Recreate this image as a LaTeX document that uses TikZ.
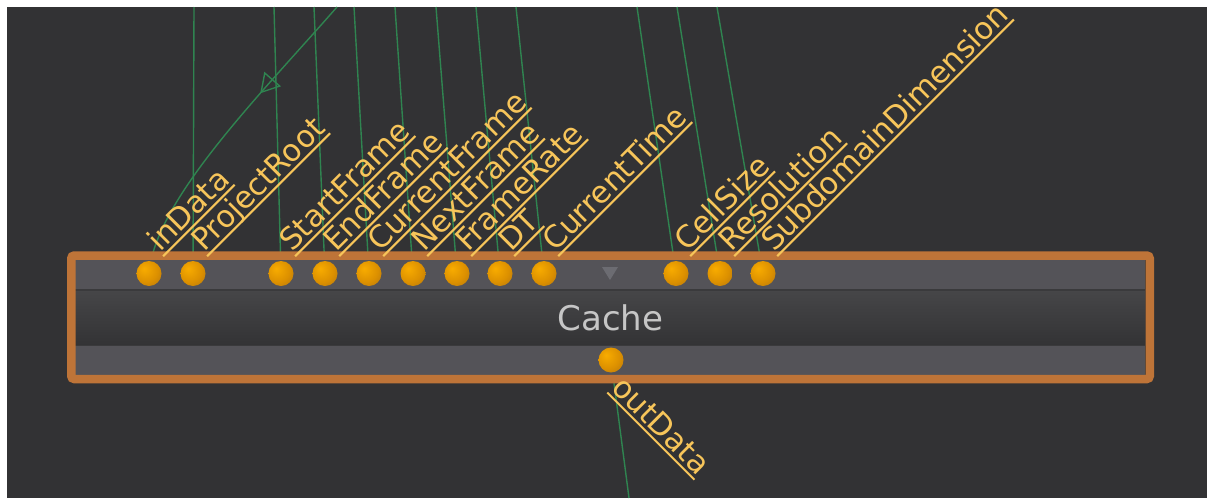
\documentclass[tikz,border=0pt]{standalone}
\usepackage{fontspec}
\setmainfont{DejaVu Sans}
\usetikzlibrary{calc,arrows.meta,decorations.markings}
\definecolor{bgdark}{HTML}{323234}
\definecolor{frameor}{HTML}{BE7438}
\definecolor{barcol}{HTML}{545358}
\definecolor{midtop}{HTML}{464648}
\definecolor{midbot}{HTML}{333335}
\definecolor{sepcol}{HTML}{3A3A3C}
\definecolor{wirecol}{HTML}{2F8450}
\definecolor{lblcol}{HTML}{F7C55A}
\definecolor{cachecol}{HTML}{C6C6C6}
\definecolor{tricol}{HTML}{6C6C72}
\definecolor{portA}{HTML}{F8AC00}
\definecolor{portB}{HTML}{DC9000}
\definecolor{portC}{HTML}{94621A}
\pgfdeclareradialshading{portshade}{\pgfpoint{-10bp}{10bp}}{color(0bp)=(portA); color(24bp)=(portB); color(56bp)=(portC); color(75bp)=(portC)}
\pgfdeclarelayer{back}
\pgfdeclarelayer{wires}
\pgfsetlayers{back,wires,main}
\tikzset{
  port/.style={circle, minimum size=25pt, inner sep=0pt, shading=portshade},
  lbltext/.style={font=\fontsize{30.5}{36}\selectfont, text=lblcol, inner sep=0pt},
  ulline/.style={draw=lblcol, line width=2pt},
  wire/.style={draw=wirecol, line width=1.4pt},
  cachetext/.style={font=\fontsize{34}{40}\selectfont, text=cachecol, inner sep=0pt}
}
\newcommand{\portlbl}[4]{%
  \node[lbltext, rotate=#3, anchor=base west] (#1) at (#2) {#4};
  \draw[ulline] ($(#1.base west)!4.5pt!-90:(#1.base east)$) -- ($(#1.base east)!4.5pt!90:(#1.base west)$);}
\begin{document}
\begin{tikzpicture}[x=1pt, y=-1pt]
\useasboundingbox (0,0) rectangle (1207,498);
\begin{pgfonlayer}{back}
  \fill[white] (0,0) rectangle (1207,498);
  \fill[bgdark] (7,7) rectangle (1207,498);
\end{pgfonlayer}

% node body
\fill[barcol] (75,260) rectangle (1145,290);
\shade[top color=midtop, bottom color=midbot] (75,290) rectangle (1145,345);
\fill[barcol] (75,345.5) rectangle (1145,375);
\draw[sepcol, line width=1.5pt] (75,290) -- (1145,290);
\draw[sepcol, line width=1.5pt] (75,345.5) -- (1145,345.5);
\draw[frameor, line width=8.5pt, rounded corners=3pt] (71.25,255.5) rectangle (1149.75,379);
\node[cachetext] (cache) at (610.5,318) {Cache};

% ports
\node[port] (pin1) at (149,273.5) {};
\node[port] (pin2) at (193,273.5) {};
\node[port] (pin3) at (281,273.5) {};
\node[port] (pin4) at (325,273.5) {};
\node[port] (pin5) at (369,273.5) {};
\node[port] (pin6) at (413,273.5) {};
\node[port] (pin7) at (457,273.5) {};
\node[port] (pin8) at (500,273.5) {};
\node[port] (pin9) at (544,273.5) {};
\node[port] (pin10) at (676,273.5) {};
\node[port] (pin11) at (720,273.5) {};
\node[port] (pin12) at (763,273.5) {};
\node[port] (pout) at (611,360) {};
\fill[tricol] (602,267) -- (618,267) -- (610,280) -- cycle;

% labels
\portlbl{l1}{160,253}{45}{inData}
\portlbl{l2}{204,253}{45}{ProjectRoot}
\portlbl{l3}{292,253}{45}{StartFrame}
\portlbl{l4}{336,253}{45}{EndFrame}
\portlbl{l5}{380,253}{45}{CurrentFrame}
\portlbl{l6}{424,253}{45}{NextFrame}
\portlbl{l7}{468,253}{45}{FrameRate}
\portlbl{l8}{511,253}{45}{DT}
\portlbl{l9}{555,253}{45}{CurrentTime}
\portlbl{l10}{687,253}{45}{CellSize}
\portlbl{l11}{731,253}{45}{Resolution}
\portlbl{l12}{774,253}{45}{SubdomainDimension}
\portlbl{lout}{610.5,389.4}{-45}{outData}

% wires
\coordinate (w1) at (337,7);
\coordinate (w2) at (194,7);
\coordinate (w3) at (274,7);
\coordinate (w4) at (314,7);
\coordinate (w5) at (354,7);
\coordinate (w6) at (395,7);
\coordinate (w7) at (436,7);
\coordinate (w8) at (476,7);
\coordinate (w9) at (516,7);
\coordinate (w10) at (637,7);
\coordinate (w11) at (677,7);
\coordinate (w12) at (717,7);
\coordinate (wout) at (629,498);
\begin{pgfonlayer}{wires}
  \draw[wire, postaction={decorate}, decoration={markings, mark=at position 0.35 with {\arrow{Triangle[open, length=19pt, width=22pt]}}}]
    (w1) .. controls (260,95) and (155,200) .. (pin1.center);
  \draw[wire] (w2) -- (pin2.center);
  \draw[wire] (w3) -- (pin3.center);
  \draw[wire] (w4) -- (pin4.center);
  \draw[wire] (w5) -- (pin5.center);
  \draw[wire] (w6) -- (pin6.center);
  \draw[wire] (w7) -- (pin7.center);
  \draw[wire] (w8) -- (pin8.center);
  \draw[wire] (w9) -- (pin9.center);
  \draw[wire] (w10) -- (pin10.center);
  \draw[wire] (w11) -- (pin11.center);
  \draw[wire] (w12) -- (pin12.center);
  \draw[wire] (pout.center) -- (wout);
\end{pgfonlayer}
\end{tikzpicture}
\end{document}
